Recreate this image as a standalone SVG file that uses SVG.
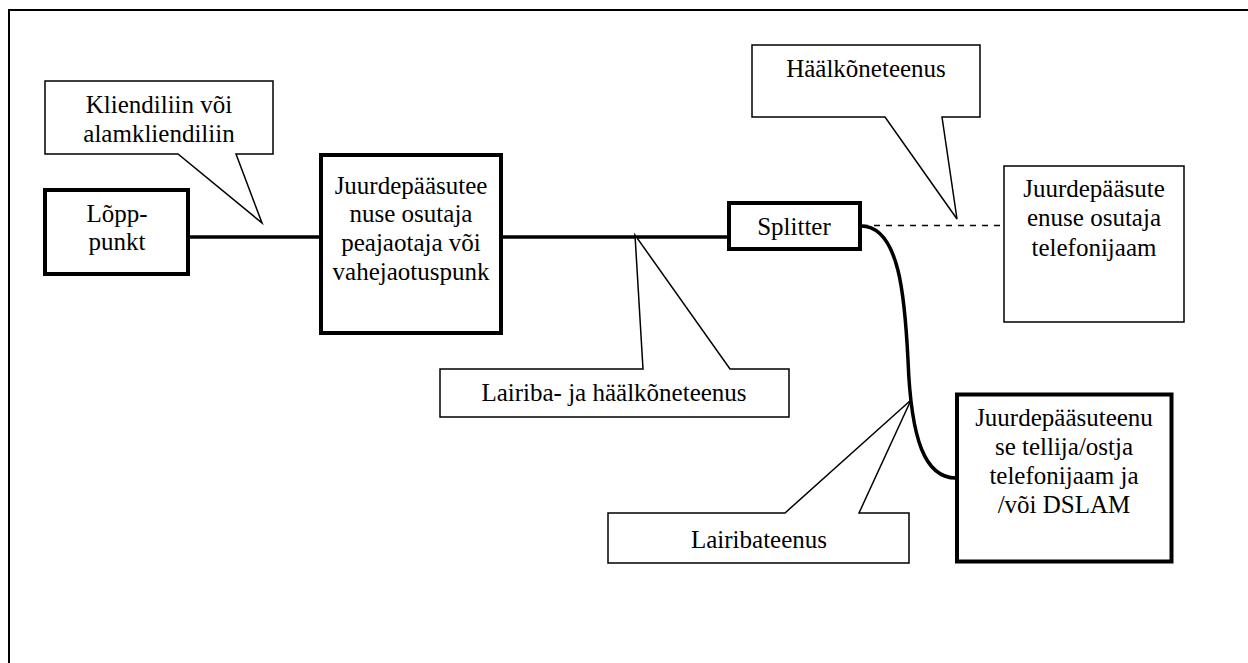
<svg xmlns="http://www.w3.org/2000/svg" width="1248" height="663" viewBox="0 0 1248 663">
<style>
  text { font-family: 'Liberation Serif', 'Times New Roman', Times, 'DejaVu Serif', serif; font-size: 25px; fill: #000; text-anchor: middle; }
  .thick { fill: #fff; stroke: #000; stroke-width: 4; }
  .thin { fill: #fff; stroke: #000; stroke-width: 1.5; stroke-linejoin: miter; }
  .wire { fill: none; stroke: #000; stroke-width: 3.5; }
  .dash { fill: none; stroke: #000; stroke-width: 1.5; stroke-dasharray: 6 6; }
</style>
<rect width="1248" height="663" fill="#fff"/>
<path d="M9,663 L9,10 L1248,10" fill="none" stroke="#000" stroke-width="2"/>

<g id="connectors">
  <line class="wire" x1="188" y1="237" x2="321" y2="237"/>
  <line class="wire" x1="501" y1="237" x2="729" y2="237"/>
  <line class="dash" x1="862" y1="225.5" x2="1004" y2="225.5"/>
  <path class="wire" d="M861,226 C900,226 905,300 908,360 C911,440 925,478 956,478"/>
</g>

<g id="callout-kliendiliin">
  <path class="thin" d="M45,81 L273,81 L273,154 L236,154 L262,223 L178,154 L45,154 Z"/>
  <text x="159" y="113" font-family="Liberation Serif, serif">Kliendiliin või</text>
  <text x="159" y="142" font-family="Liberation Serif, serif">alamkliendiliin</text>
</g>

<g id="node-loppunkt">
  <rect class="thick" x="45" y="190" width="143" height="84" stroke-width="3.5"/>
  <text x="117" y="222">Lõpp-</text>
  <text x="117" y="250">punkt</text>
</g>

<g id="node-peajaotaja">
  <rect class="thick" x="321" y="155" width="180" height="178"/>
  <text x="411" y="194">Juurdepääsutee</text>
  <text x="411" y="222">nuse osutaja</text>
  <text x="411" y="251">peajaotaja või</text>
  <text x="411" y="280">vahejaotuspunk</text>
</g>

<g id="node-splitter">
  <rect class="thick" x="729" y="203" width="131" height="46" stroke-width="3.5"/>
  <text x="794" y="235">Splitter</text>
</g>

<g id="callout-haalkone">
  <path class="thin" d="M752,45 L980,45 L980,117 L942,117 L957,219 L885,117 L752,117 Z"/>
  <text x="866" y="77">Häälkõneteenus</text>
</g>

<g id="node-telefonijaam">
  <rect class="thin" x="1004" y="166" width="180" height="156" stroke-width="2"/>
  <text x="1094" y="197">Juurdepääsute</text>
  <text x="1094" y="226">enuse osutaja</text>
  <text x="1094" y="256">telefonijaam</text>
</g>

<g id="callout-lairiba-haalkone">
  <path class="thin" d="M440,369 L643,369 L635,235 L730,369 L789,369 L789,417 L440,417 Z"/>
  <text x="614" y="401">Lairiba- ja häälkõneteenus</text>
</g>

<g id="callout-lairibateenus">
  <path class="thin" d="M608,513 L785,513 L911,400 L859,513 L909,513 L909,563 L608,563 Z" stroke-width="2"/>
  <text x="759" y="548">Lairibateenus</text>
</g>

<g id="node-dslam">
  <rect class="thick" x="957" y="394.5" width="214.5" height="167"/>
  <text x="1064" y="426">Juurdepääsuteenu</text>
  <text x="1064" y="455">se tellija/ostja</text>
  <text x="1064" y="484">telefonijaam ja</text>
  <text x="1064" y="513">/või DSLAM</text>
</g>
</svg>
